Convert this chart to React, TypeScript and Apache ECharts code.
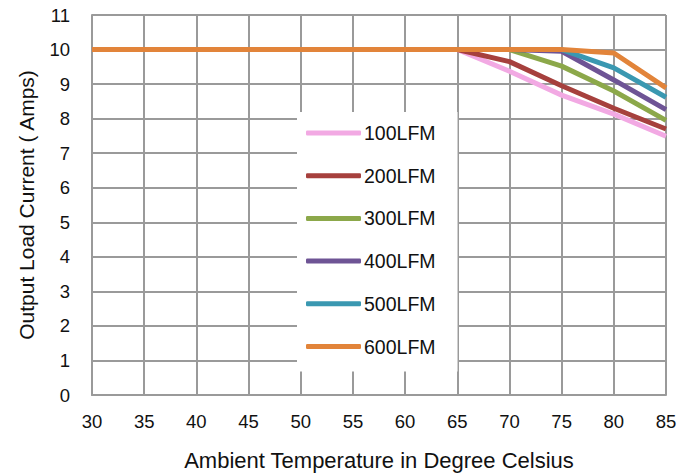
import React, { useEffect, useRef } from "react";
import * as echarts from "echarts";

const temps = [30, 35, 40, 45, 50, 55, 60, 65, 70, 75, 80, 85];
const seriesNames = ["100LFM", "200LFM", "300LFM", "400LFM", "500LFM", "600LFM"];
const lfm100 = [10, 10, 10, 10, 10, 10, 10, 10, 9.37, 8.68, 8.13, 7.49];
const lfm200 = [10, 10, 10, 10, 10, 10, 10, 10, 9.65, 8.95, 8.3, 7.7];
const lfm300 = [10, 10, 10, 10, 10, 10, 10, 10, 10, 9.52, 8.8, 7.95];
const lfm400 = [10, 10, 10, 10, 10, 10, 10, 10, 10, 9.95, 9.12, 8.26];
const lfm500 = [10, 10, 10, 10, 10, 10, 10, 10, 10, 10, 9.47, 8.62];
const lfm600 = [10, 10, 10, 10, 10, 10, 10, 10, 10, 10, 9.9, 8.89];
const seriesValues = [lfm100, lfm200, lfm300, lfm400, lfm500, lfm600];
const colors = ["#F2A9E3", "#A6403D", "#8CA84A", "#6E5495", "#3A98B1", "#E2843A"];

const FONT = "'Liberation Sans Narrow', 'Arial Narrow', 'Liberation Sans', sans-serif";

export default function App() {
  const ref = useRef<HTMLDivElement>(null);
  useEffect(() => {
    if (!ref.current) return;
    const chart = echarts.init(ref.current, undefined, { renderer: "svg" });
    chart.setOption({
      animation: false,
      backgroundColor: "#fff",
      textStyle: { fontFamily: FONT },
      grid: { left: 92, right: 25, top: 15, bottom: 80 },
      legend: {
        orient: "vertical",
        left: 297,
        top: 112,
        backgroundColor: "#fff",
        padding: [11, 22, 15, 9],
        itemWidth: 55,
        itemHeight: 5,
        itemGap: 22.7,
        icon: "roundRect",
        textStyle: { fontSize: 19.5, color: "#111", fontFamily: FONT, lineHeight: 20, padding: [0, 0, 0, -2] },
        data: seriesNames,
      },
      xAxis: {
        type: "value",
        min: 30,
        max: 85,
        interval: 5,
        name: "Ambient Temperature in Degree Celsius",
        nameLocation: "middle",
        nameGap: 54,
        nameTextStyle: { fontSize: 22, color: "#111", fontFamily: FONT },
        axisLine: { lineStyle: { color: "#9a9a9a", width: 2 } },
        axisTick: { show: false },
        axisLabel: { fontSize: 18.5, color: "#111", margin: 17, fontFamily: FONT },
        splitLine: { show: true, lineStyle: { color: "#9a9a9a", width: 2 } },
      },
      yAxis: {
        type: "value",
        min: 0,
        max: 11,
        interval: 1,
        name: "Output Load Current ( Amps)",
        nameLocation: "middle",
        nameGap: 55,
        nameTextStyle: { fontSize: 21, color: "#111", fontFamily: FONT },
        axisLine: { show: true, lineStyle: { color: "#9a9a9a", width: 2 } },
        axisTick: { show: false },
        axisLabel: { fontSize: 18.5, color: "#111", margin: 22, fontFamily: FONT },
        splitLine: { show: true, lineStyle: { color: "#9a9a9a", width: 2 } },
      },
      series: seriesNames.map((name, i) => ({
        name,
        type: "line",
        showSymbol: false,
        symbol: "none",
        color: colors[i],
        lineStyle: { width: 5, color: colors[i] },
        data: temps.map((t, j) => [t, seriesValues[i][j]]),
      })),
    });
    return () => chart.dispose();
  }, []);
  return <div ref={ref} style={{ width: 691, height: 476, position: "absolute", left: 0, top: 0 }} />;
}
